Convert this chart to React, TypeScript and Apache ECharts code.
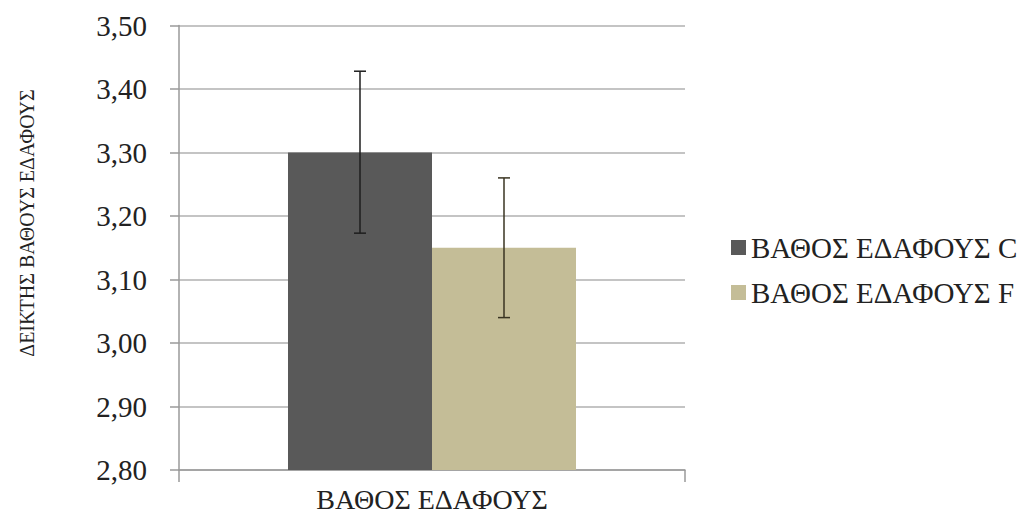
import React, { useEffect, useRef } from "react";
import * as echarts from "echarts";

const categories = ["ΒΑΘΟΣ ΕΔΑΦΟΥΣ"];
const seriesNames = ["ΒΑΘΟΣ ΕΔΑΦΟΥΣ C", "ΒΑΘΟΣ ΕΔΑΦΟΥΣ F"];
const seriesValues = [3.3, 3.15];
const errorLow = [3.173, 3.04];
const errorHigh = [3.428, 3.26];
const seriesColors = ["#595959", "#c4bd97"];
const errorColors = ["#1e1e1e", "#3a3422"];
const yAxisName = "ΔΕΙΚΤΗΣ ΒΑΘΟΥΣ ΕΔΑΦΟΥΣ";

const BAR_FRAC = 0.2846;
const FONT = "'Liberation Serif', 'DejaVu Serif', serif";

export default function App() {
  const ref = useRef<HTMLDivElement>(null);
  useEffect(() => {
    if (!ref.current) return;
    const chart = echarts.init(ref.current, null, { renderer: "svg" });
    const errData = seriesValues.map((_, i) => [0, errorLow[i], errorHigh[i], i]);
    chart.setOption({
      animation: false,
      backgroundColor: "#ffffff",
      grid: { left: 179, right: 337, top: 25.5, bottom: 52 },
      legend: {
        orient: "vertical",
        left: 726,
        top: 228,
        itemWidth: 15,
        itemHeight: 15,
        itemGap: 16,
        icon: "rect",
        data: seriesNames,
        textStyle: { fontFamily: FONT, fontSize: 29, color: "#222" },
      },
      graphic: [
        {
          type: "text",
          x: 27,
          y: 223,
          rotation: Math.PI / 2,
          style: {
            text: yAxisName,
            font: `20px ${FONT}`,
            fill: "#222",
            align: "center",
            verticalAlign: "middle",
          },
        },
      ],
      xAxis: {
        type: "category",
        data: categories,
        axisLine: { show: true, lineStyle: { color: "#9a9a9a", width: 1.5 } },
        axisTick: { show: true, length: 12, alignWithLabel: false, lineStyle: { color: "#9a9a9a", width: 1.5 } },
        axisLabel: { fontFamily: FONT, fontSize: 28, color: "#222", margin: 15 },
      },
      yAxis: {
        type: "value",
        min: 2.8,
        max: 3.5,
        interval: 0.1,
        axisLine: { show: true, lineStyle: { color: "#9a9a9a", width: 1.5 } },
        axisTick: { show: true, length: 9, lineStyle: { color: "#9a9a9a", width: 1.5 } },
        splitLine: { show: true, lineStyle: { color: "#b0b0b0", width: 1.5 } },
        axisLabel: {
          fontFamily: FONT,
          fontSize: 29,
          color: "#222",
          margin: 32,
          formatter: (v: number) => v.toFixed(2).replace(".", ","),
        },
      },
      series: [
        ...seriesNames.map((name, i) => ({
          name,
          type: "bar",
          data: [seriesValues[i]],
          barWidth: `${BAR_FRAC * 100}%`,
          barGap: "0%",
          itemStyle: { color: seriesColors[i] },
        })),
        {
          type: "custom",
          name: "err",
          data: errData,
          encode: { x: 0, y: [1, 2] },
          z: 10,
          renderItem: (params: any, api: any) => {
            const cat = api.value(0);
            const lo = api.value(1);
            const hi = api.value(2);
            const idx = api.value(3);
            const band = api.size([1, 0])[0];
            const bw = band * BAR_FRAC;
            const pLo = api.coord([cat, lo]);
            const pHi = api.coord([cat, hi]);
            const x = pLo[0] + (idx === 0 ? -bw / 2 : bw / 2);
            const cap = 6;
            const style = { stroke: errorColors[idx], lineWidth: 1.5 };
            return {
              type: "group",
              children: [
                { type: "line", shape: { x1: x, y1: pLo[1], x2: x, y2: pHi[1] }, style },
                { type: "line", shape: { x1: x - cap, y1: pHi[1], x2: x + cap, y2: pHi[1] }, style },
                { type: "line", shape: { x1: x - cap, y1: pLo[1], x2: x + cap, y2: pLo[1] }, style },
              ],
            };
          },
        },
      ],
    });
    return () => chart.dispose();
  }, []);
  return (
    <div
      ref={ref}
      style={{ position: "fixed", left: 0, top: 0, width: 1022, height: 522, background: "#fff" }}
    />
  );
}
